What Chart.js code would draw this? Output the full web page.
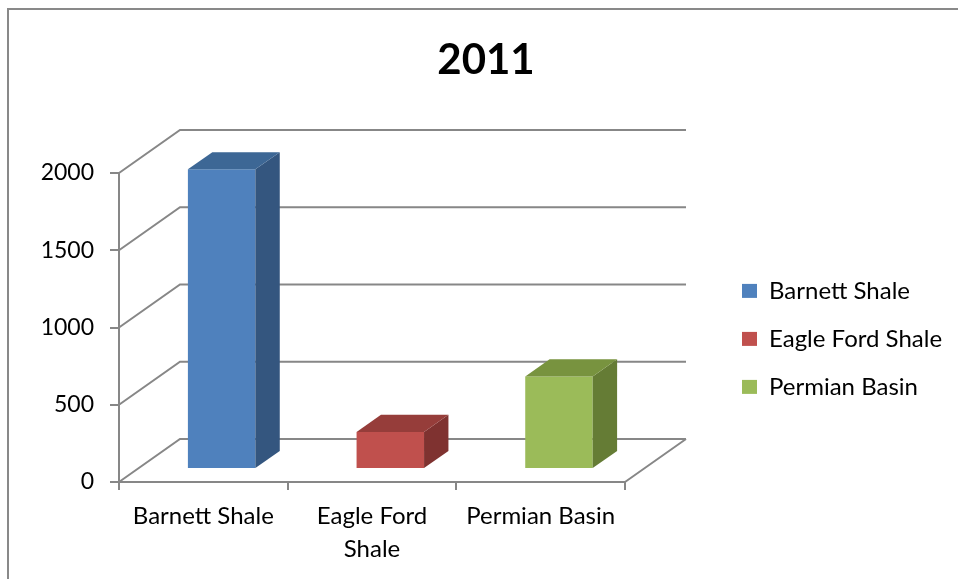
<!DOCTYPE html>
<html>
<head>
<meta charset="utf-8">
<script src="https://cdn.jsdelivr.net/npm/chart.js@4.4.1/dist/chart.umd.min.js"></script>
<style>
  html, body { margin: 0; padding: 0; background: #fff; overflow: hidden; }
  #frame { position: absolute; left: 7px; top: 8px; width: 1000px; height: 620px; border: 2px solid #898989; }
  #chart { position: absolute; left: 0; top: 0; }
</style>
</head>
<body>
<div id="frame"></div>
<canvas id="chart" width="958" height="579"></canvas>
<script>
// --- data ---
const titleText = '2011';
const categories = ['Barnett Shale', 'Eagle Ford Shale', 'Permian Basin'];
const axisLabels = ['Barnett Shale', ['Eagle Ford', 'Shale'], 'Permian Basin'];
const values = [1940, 240, 600];
const yMin = 0;
const yMax = 2000;
const yStep = 500;

// --- styles ---
const frontColors = ['#4F81BD', '#C0504D', '#9BBB59'];
const topColors = ['#3D6795', '#963D3A', '#78933F'];
const sideColors = ['#34567F', '#7F3230', '#657C35'];
const gridColor = '#878787';
const FONT = 'Lato';
const LABEL_SIZE = 24;

// 3D look: offset of the back wall, and where the bars sit inside the depth
const wallDx = 61, wallDy = -43;
const barFrontAt = 0.3, barDepth = 0.4;

// legend sizing so that the plot keeps its place
const legendPad = 24, legendBox = 15;
const mctx = document.createElement('canvas').getContext('2d');
mctx.font = 'normal ' + LABEL_SIZE + 'px ' + FONT;
const textW = Math.max(...categories.map(c => mctx.measureText(c).width));
const legendW = legendPad + legendBox + LABEL_SIZE / 2 + textW + 10;
const padR = Math.max(0, 958 - 718 - legendW);
const padL = 2 * 486 - 958 + padR;
const gapW = 958 - padR - legendW - 625;

const depth3d = {
  id: 'depth3d',
  beforeDatasetsDraw(chart) {
    const { ctx, chartArea: a, scales: { y } } = chart;
    ctx.save();
    ctx.strokeStyle = gridColor;
    ctx.lineWidth = 2;
    ctx.beginPath();
    y.ticks.forEach(t => {
      const py = y.getPixelForValue(t.value);
      ctx.moveTo(a.left, py);
      ctx.lineTo(a.left + wallDx, py + wallDy);
      ctx.lineTo(a.right + wallDx, py + wallDy);
    });
    // right edge of the floor
    ctx.moveTo(a.right, a.bottom);
    ctx.lineTo(a.right + wallDx, a.bottom + wallDy);
    ctx.stroke();
    ctx.restore();
  },
  beforeDatasetDraw(chart) {
    chart.ctx.save();
    chart.ctx.translate(wallDx * barFrontAt, wallDy * barFrontAt);
  },
  afterDatasetDraw(chart, args) {
    const ctx = chart.ctx;
    const bx = wallDx * barDepth, by = wallDy * barDepth;
    args.meta.data.forEach((bar, i) => {
      const { x, y, base, width } = bar.getProps(['x', 'y', 'base', 'width'], true);
      const l = x - width / 2, r = x + width / 2;
      const top = Math.min(y, base), bot = Math.max(y, base);
      // right side
      ctx.fillStyle = sideColors[i];
      ctx.beginPath();
      ctx.moveTo(r, top);
      ctx.lineTo(r + bx, top + by);
      ctx.lineTo(r + bx, bot + by);
      ctx.lineTo(r, bot);
      ctx.closePath();
      ctx.fill();
      // top
      ctx.fillStyle = topColors[i];
      ctx.beginPath();
      ctx.moveTo(l, top);
      ctx.lineTo(l + bx, top + by);
      ctx.lineTo(r + bx, top + by);
      ctx.lineTo(r, top);
      ctx.closePath();
      ctx.fill();
    });
    ctx.restore();
  }
};

new Chart(document.getElementById('chart'), {
  type: 'bar',
  data: {
    labels: axisLabels,
    datasets: [{
      data: values,
      backgroundColor: frontColors,
      borderWidth: 0,
      categoryPercentage: 1,
      barPercentage: 0.4,
      clip: false
    }]
  },
  options: {
    responsive: false,
    animation: false,
    layout: { padding: { left: padL, right: padR, top: 0, bottom: 0 } },
    plugins: {
      title: {
        display: true,
        text: titleText,
        color: '#000',
        font: { family: FONT, size: 42, weight: 'bold', lineHeight: 1.2 },
        padding: { top: 35, bottom: 87.6 }
      },
      legend: {
        position: 'right',
        fullSize: false,
        align: 'center',
        maxWidth: 400,
        title: { display: true, text: '', font: { size: 19 }, padding: 0 },
        labels: {
          boxWidth: legendBox,
          boxHeight: 14,
          padding: legendPad,
          color: '#000',
          font: { family: FONT, size: LABEL_SIZE },
          generateLabels: () => categories.map((c, i) => ({
            text: c, fillStyle: frontColors[i], strokeStyle: frontColors[i],
            fontColor: '#000', lineWidth: 0, hidden: false, index: i
          }))
        }
      },
      tooltip: { enabled: false }
    },
    scales: {
      x: {
        offset: true,
        grid: { offset: true, drawOnChartArea: false, drawTicks: true, tickLength: 8, color: gridColor, lineWidth: 2 },
        border: { display: true, color: gridColor, width: 2 },
        ticks: { color: '#000', font: { family: FONT, size: LABEL_SIZE, lineHeight: 33 / LABEL_SIZE }, padding: 10, maxRotation: 0, autoSkip: false },
        afterFit(s) { s.height = 97; }
      },
      y: {
        min: yMin,
        max: yMax,
        grid: { drawOnChartArea: false, drawTicks: true, tickLength: 9, color: gridColor, lineWidth: 2 },
        border: { display: true, color: gridColor, width: 2 },
        ticks: { stepSize: yStep, color: '#000', font: { family: FONT, size: 23 }, padding: 16, callback: v => String(v) },
        afterFit(s) { s.width = 119 - padL; }
      },
      gap: {
        type: 'linear',
        position: 'right',
        grid: { display: false },
        border: { display: false },
        ticks: { display: false },
        afterFit(s) { s.width = gapW; }
      }
    }
  },
  plugins: [depth3d]
});
</script>
</body>
</html>
